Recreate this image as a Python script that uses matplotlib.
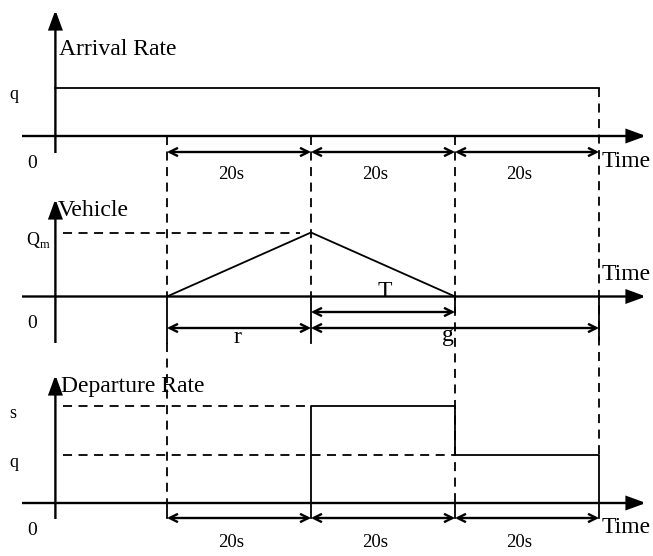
import matplotlib
matplotlib.use("Agg")
import matplotlib.pyplot as plt
from matplotlib.patches import FancyArrowPatch
from matplotlib.transforms import Affine2D

# ---------------- data ----------------
cycle_edges = [0, 20, 40, 60]          # s : red start, green start, queue cleared, cycle end
segment_labels = ["20s", "20s", "20s"]
arrival_q = 1.0                        # arrival rate q
queue_t = [0, 20, 40]                  # vehicle queue curve
queue_n = [0, 20, 0]                   # Qm = 20
depart_t = [20, 40, 60]                # departure rate steps
depart_rate = [2.0, 1.0]               # s, then q
sat_s = 2.0
rate_labels = ["q", "s"]
panel_titles = ["Arrival Rate", "Vehicle", "Departure Rate"]

# ---------------- figure ----------------
W, H = 653, 556
fig = plt.figure(figsize=(W / 100, H / 100), dpi=100)
ax = fig.add_axes([0, 0, 1, 1])
ax.set_xlim(0, W)
ax.set_ylim(H, 0)
ax.axis("off")

FONT = ["Liberation Serif", "DejaVu Serif"]
plt.rcParams["mathtext.fontset"] = "custom"
plt.rcParams["mathtext.rm"] = "Liberation Serif"

# time -> pixel layout
X0, PXS = 167, 7.2
bases = [136, 296.5, 503]
scales = [48, 3.2, 48.5]
P = [Affine2D().scale(PXS, -k).translate(X0, b) + ax.transData for b, k in zip(bases, scales)]
YAX_T = -15.5  # y-axis position in seconds

def tx(t):
    return X0 + PXS * t

AX_LW = 1.7
LW = 1.3
DASH = (0, (5, 3.6))
TFS = 17

def arrow(p0, p1, style, ms, lw, tr=None):
    a = FancyArrowPatch(p0, p1, arrowstyle=style, mutation_scale=ms, lw=lw,
                        color="k", shrinkA=0, shrinkB=0,
                        transform=tr if tr is not None else ax.transData,
                        joinstyle="miter", capstyle="butt")
    ax.add_patch(a)

AXHEAD = "-|>,head_length=1.15,head_width=0.42"
DIMHEAD = "<->,head_length=0.6,head_width=0.3"

yaxis_x = tx(YAX_T)
vtips = [10, 199, 375]
vbots = [153, 343, 519]
for b, vt, vb in zip(bases, vtips, vbots):
    arrow((22, b), (646, b), AXHEAD, 10, AX_LW)
    arrow((yaxis_x, vb), (yaxis_x, vt), AXHEAD, 10, AX_LW)

# ---------------- vertical guide lines ----------------
t0, t1, t2, t3 = cycle_edges
# t0
ax.plot([tx(t0)] * 2, [bases[0], bases[1]], "k", lw=LW, ls=DASH)
ax.plot([tx(t0)] * 2, [bases[1], 343], "k", lw=LW)
ax.plot([tx(t0)] * 2, [343, bases[2]], "k", lw=LW, ls=DASH)
ax.plot([tx(t0)] * 2, [bases[2], 518], "k", lw=LW)
# t1
ax.plot([tx(t1)] * 2, [bases[0], bases[1]], "k", lw=LW, ls=DASH)
ax.plot([tx(t1)] * 2, [bases[1], 343], "k", lw=LW)
# t2
ax.plot([tx(t2)] * 2, [bases[0], bases[2]], "k", lw=LW, ls=DASH)
ax.plot([tx(t2)] * 2, [bases[1], 312], "k", lw=LW)
ax.plot([tx(t2)] * 2, [bases[2], 518], "k", lw=LW)
# t3
y_q_top = bases[0] - scales[0] * arrival_q
y_q_bot = bases[2] - scales[2] * depart_rate[1]
ax.plot([tx(t3)] * 2, [y_q_top, y_q_bot], "k", lw=LW, ls=DASH)
ax.plot([tx(t3)] * 2, [bases[1], 340], "k", lw=LW)

# ---------------- panel 1: arrival rate ----------------
ax.plot([YAX_T, t3], [arrival_q, arrival_q], "k", lw=LW, transform=P[0])

# ---------------- panel 2: queue ----------------
ax.plot(queue_t, queue_n, "k", lw=LW, transform=P[1])
qm = max(queue_n)
ax.plot([YAX_T + 1.0, queue_t[1] - 1.5], [qm, qm], "k", lw=LW, ls=DASH, transform=P[1])

# ---------------- panel 3: departure rate ----------------
ax.plot([YAX_T + 1.0, depart_t[0]], [sat_s, sat_s], "k", lw=LW, ls=DASH, transform=P[2])
ax.plot([YAX_T + 1.0, depart_t[1]], [arrival_q, arrival_q], "k", lw=LW, ls=DASH, transform=P[2])
ax.plot([depart_t[0], depart_t[0], depart_t[1], depart_t[1], depart_t[2], depart_t[2]],
        [0, depart_rate[0], depart_rate[0], depart_rate[1], depart_rate[1], 0],
        "k", lw=LW, transform=P[2])
ax.plot([tx(depart_t[0])] * 2, [bases[2], 518], "k", lw=LW)
ax.plot([tx(depart_t[2])] * 2, [bases[2], 518], "k", lw=LW)

# ---------------- dimension arrows ----------------
for row_y, lab_y in [(152, 179), (518, 547)]:
    for (a, b), lab in zip(zip(cycle_edges[:-1], cycle_edges[1:]), segment_labels):
        arrow((tx(a), row_y), (tx(b), row_y), DIMHEAD, 10, 1.7)
        ax.text(tx((a + b) / 2) - 8, lab_y, lab, fontsize=13.5, family=FONT,
                ha="center", va="baseline")

arrow((tx(t1), 312), (tx(t2), 312), DIMHEAD, 10, 1.7)
arrow((tx(t0), 328), (tx(t1), 328), DIMHEAD, 10, 1.7)
arrow((tx(t1), 328), (tx(t3), 328), DIMHEAD, 10, 1.7)
ax.text(385, 297, "T", fontsize=TFS, family=FONT, ha="center", va="baseline")
ax.text(237, 343, "r", fontsize=TFS, family=FONT, ha="center", va="baseline")
ax.text(448, 341, "g", fontsize=TFS, family=FONT, ha="center", va="baseline")

# ---------------- labels ----------------
ax.text(59, 55, panel_titles[0], fontsize=TFS, family=FONT, ha="left", va="baseline")
ax.text(58, 216, panel_titles[1], fontsize=TFS, family=FONT, ha="left", va="baseline")
ax.text(61, 392, panel_titles[2], fontsize=TFS, family=FONT, ha="left", va="baseline")
for yb in [167, 280, 533]:
    ax.text(602, yb, "Time", fontsize=TFS, family=FONT, ha="left", va="baseline")
for yb in [168, 328, 535]:
    ax.text(32, yb, "0", fontsize=14, family=FONT, ha="center", va="baseline")
ax.text(14, 99, rate_labels[0], fontsize=13, family=FONT, ha="center", va="baseline")
ax.text(14, 467, rate_labels[0], fontsize=13, family=FONT, ha="center", va="baseline")
ax.text(13, 418, rate_labels[1], fontsize=13, family=FONT, ha="center", va="baseline")
ax.text(26, 245, r"Q$_{\mathrm{m}}$", fontsize=13, family=FONT, ha="left", va="baseline")

fig.savefig("out.png", dpi=100)
